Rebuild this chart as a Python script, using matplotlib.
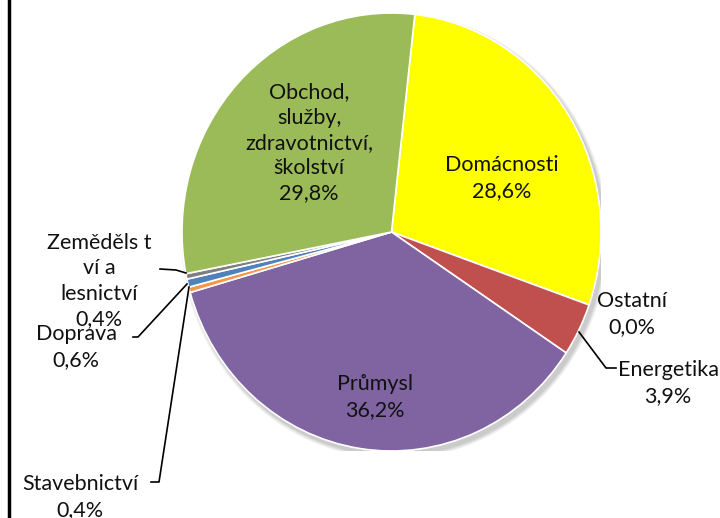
import matplotlib
matplotlib.use("Agg")
import matplotlib.pyplot as plt
from matplotlib.lines import Line2D
from matplotlib.patches import Ellipse

# ---- data ----
categories = ["Domácnosti", "Ostatní", "Energetika", "Průmysl",
              "Stavebnictví", "Doprava", "Zemědělství a lesnictví",
              "Obchod, služby, zdravotnictví, školství"]
values = [28.6, 0.0, 3.9, 36.2, 0.4, 0.6, 0.4, 29.8]
label_texts = ["Domácnosti", "Ostatní", "Energetika", "Průmysl",
               "Stavebnictví", "Doprava", "Zeměděls t\nví a\nlesnictví",
               "Obchod,\nslužby,\nzdravotnictví,\nškolství"]
colors = ["#FFFF00", "#4BACC6", "#C0504D", "#8064A2",
          "#F79646", "#4F81BD", "#7F7F7F", "#9BBB59"]

W, H = 720, 518
fig = plt.figure(figsize=(W / 100, H / 100), dpi=100)
plt.rcParams['font.family'] = ['Lato', 'DejaVu Sans']

def fx(px):
    return px / W

def fy(py):
    return 1 - py / H

# pie axes (pie is slightly stretched vertically, as in the reference)
left, right, top, bottom = 182, 601, 13, 451
ax = fig.add_axes([fx(left), fy(bottom), fx(right - left), (bottom - top) / H])

# soft shadow
sx, sy = 2 * 3 / (right - left), -2 * 4 / (bottom - top)
for i, a in enumerate([0.10, 0.10, 0.12, 0.15]):
    grow = (4 - i) * 2.0 / (right - left)
    ax.add_patch(Ellipse((sx, sy), 2 + 2 * grow, 2 + 2 * grow,
                         facecolor="#808080", alpha=a, edgecolor="none", zorder=0))

wedges, _ = ax.pie(values, colors=colors, startangle=83.6, counterclock=False,
                   radius=1, wedgeprops=dict(edgecolor="white", linewidth=1.2))
for w in wedges:
    w.set_zorder(2)
ax.set_aspect('auto')
ax.set_xlim(-1, 1)
ax.set_ylim(-1, 1)
ax.axis('off')

def pct(v):
    return f"{v:.1f}".replace('.', ',') + "%"

# label positions in pixels (center of text block)
label_pos = [(502, 178), (632, 314), (668, 383), (375, 397),
             (80, 497), (76, 347), (99, 281), (309, 143)]
fs = 15.5
for txt, v, (px, py) in zip(label_texts, values, label_pos):
    fig.text(fx(px), fy(py), txt + "\n" + pct(v), ha="center", va="center",
             fontsize=fs, color="#111111", linespacing=1.33, zorder=5)

# leader lines (pixels)
leaders = [
    [(579, 332), (606, 368), (616, 368)],          # Energetika
    [(151, 482), (159, 482), (189, 287)],          # Stavebnictví
    [(133, 337), (138, 337), (187, 284)],          # Doprava
    [(160, 269), (176, 270), (186, 273)],          # Zemědělství
]
for pts in leaders:
    xs = [fx(p[0]) for p in pts]
    ys = [fy(p[1]) for p in pts]
    fig.add_artist(Line2D(xs, ys, color="black", linewidth=1.2, zorder=6))

# left border of the chart frame
fig.add_artist(Line2D([fx(9), fx(9)], [0, 1], color="black", linewidth=2.5))

fig.savefig("out.png", dpi=100, facecolor="white")
